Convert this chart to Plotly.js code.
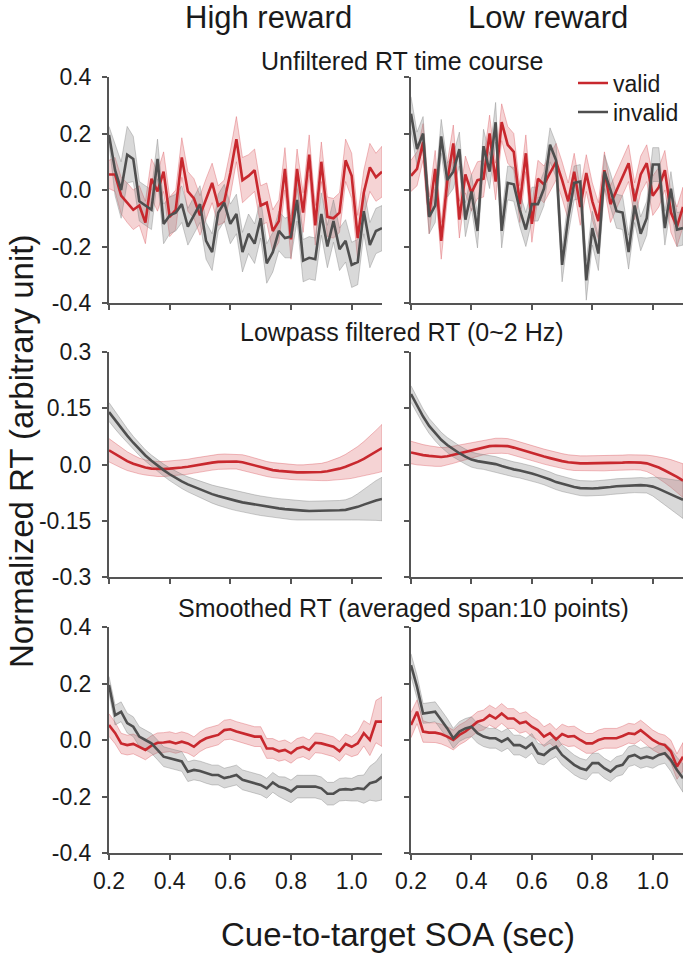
<!DOCTYPE html>
<html>
<head>
<meta charset="utf-8">
<script src="https://cdn.plot.ly/plotly-3.0.1.min.js"></script>
<style>html,body{margin:0;padding:0;background:#fff;}#chart{width:685px;height:953px;}</style>
</head>
<body>
<div id="chart"></div>
<script>
// ---------------- data ----------------
const SOA = [0.2,0.22,0.24,0.26,0.28,0.3,0.32,0.34,0.36,0.38,0.4,0.42,0.44,0.46,0.48,0.5,0.52,0.54,0.56,0.58,0.6,0.62,0.64,0.66,0.68,0.7,0.72,0.74,0.76,0.78,0.8,0.82,0.84,0.86,0.88,0.9,0.92,0.94,0.96,0.98,1.0,1.02,1.04,1.06,1.08,1.1];

const seriesNames = ['valid', 'invalid'];
const columnTitles = ['High reward', 'Low reward'];
const rowTitles = ['Unfiltered RT time course', 'Lowpass filtered RT (0~2 Hz)', 'Smoothed RT (averaged span:10 points)'];
const xTitle = 'Cue-to-target SOA (sec)';
const yTitle = 'Normalized RT (arbitrary unit)';

const xTickVals = [0.2, 0.4, 0.6, 0.8, 1.0];
const xTickText = ['0.2', '0.4', '0.6', '0.8', '1.0'];
const yTickValsA = [-0.4, -0.2, 0, 0.2, 0.4];
const yTickTextA = ['-0.4', '-0.2', '0.0', '0.2', '0.4'];
const yTickValsB = [-0.3, -0.15, 0, 0.15, 0.3];
const yTickTextB = ['-0.3', '-0.15', '0.0', '0.15', '0.3'];

// Unfiltered, high reward
const rawHighValid = [0.055,0.055,-0.02,-0.045,-0.07,-0.055,-0.115,0.04,-0.005,0.065,-0.095,-0.07,0.115,-0.005,-0.03,-0.09,-0.03,0.025,-0.055,-0.04,0.06,0.18,0.035,0.05,0.07,-0.055,-0.045,-0.145,-0.11,0.075,-0.175,0.075,-0.08,0.125,-0.125,0.1,-0.095,-0.1,-0.08,0.105,0.05,-0.17,-0.01,0.08,0.045,0.065];
const rawHighInvalid = [0.195,0.07,0.0,0.125,0.11,-0.04,-0.055,-0.07,0.11,-0.12,-0.09,-0.08,-0.05,-0.13,-0.09,-0.05,-0.18,-0.22,-0.08,-0.045,-0.12,-0.085,-0.22,-0.155,-0.19,-0.1,-0.26,-0.22,-0.145,-0.17,-0.165,-0.035,-0.25,-0.24,-0.245,-0.085,-0.2,-0.11,-0.21,-0.18,-0.265,-0.255,-0.075,-0.195,-0.145,-0.135];
const rawHighValidSem = [0.05,0.06,0.065,0.07,0.07,0.07,0.075,0.07,0.07,0.07,0.07,0.07,0.07,0.07,0.07,0.07,0.07,0.07,0.07,0.075,0.08,0.08,0.08,0.075,0.075,0.07,0.07,0.075,0.075,0.075,0.07,0.07,0.07,0.07,0.07,0.07,0.07,0.07,0.07,0.075,0.08,0.08,0.08,0.085,0.085,0.09];
const rawHighInvalidSem = [0.03,0.09,0.1,0.1,0.08,0.07,0.07,0.07,0.07,0.07,0.065,0.065,0.065,0.065,0.065,0.065,0.065,0.065,0.065,0.065,0.07,0.07,0.07,0.07,0.07,0.07,0.07,0.07,0.07,0.07,0.075,0.075,0.075,0.075,0.075,0.075,0.075,0.075,0.075,0.075,0.08,0.08,0.08,0.08,0.08,0.08];

// Unfiltered, low reward
const rawLowValid = [0.05,0.075,0.17,-0.09,0.075,-0.18,0.03,0.165,-0.105,0.055,-0.01,0.035,0.04,0.2,0.03,0.24,0.16,0.135,-0.05,0.13,-0.12,0.04,0.02,0.06,0.1,0.035,-0.04,0.065,-0.06,0.06,-0.04,-0.11,0.07,-0.05,0.0,0.05,0.095,-0.04,0.055,0.095,-0.02,0.01,0.07,-0.08,-0.13,-0.06];
const rawLowInvalid = [0.27,0.145,0.2,-0.095,-0.055,0.19,0.035,0.065,0.145,-0.105,-0.005,-0.145,0.155,0.065,0.24,-0.145,0.025,0.02,-0.07,-0.14,-0.05,-0.05,0.005,0.16,0.105,-0.265,-0.1,0.025,0.03,-0.32,-0.135,-0.225,0.065,0.0,-0.075,-0.08,-0.22,-0.055,-0.155,-0.1,0.09,0.09,-0.135,0.005,-0.14,-0.135];
const rawLowValidSem = [0.055,0.06,0.065,0.065,0.065,0.065,0.065,0.065,0.065,0.065,0.065,0.065,0.065,0.065,0.065,0.065,0.065,0.065,0.065,0.065,0.065,0.065,0.065,0.065,0.065,0.065,0.065,0.065,0.065,0.065,0.065,0.065,0.065,0.065,0.065,0.065,0.065,0.065,0.065,0.065,0.07,0.07,0.07,0.07,0.07,0.07];
const rawLowInvalidSem = [0.06,0.06,0.06,0.06,0.06,0.06,0.06,0.06,0.06,0.06,0.06,0.06,0.06,0.06,0.07,0.06,0.06,0.06,0.06,0.06,0.06,0.06,0.06,0.06,0.06,0.06,0.06,0.06,0.06,0.07,0.06,0.06,0.06,0.06,0.06,0.06,0.06,0.06,0.06,0.06,0.06,0.06,0.06,0.06,0.06,0.06];

// Lowpass filtered, high reward
const lpHighValid = [0.038,0.028,0.018,0.009,0.002,-0.004,-0.008,-0.011,-0.012,-0.012,-0.011,-0.01,-0.008,-0.006,-0.003,0.0,0.003,0.005,0.007,0.008,0.008,0.008,0.006,0.002,-0.003,-0.008,-0.012,-0.015,-0.017,-0.019,-0.02,-0.021,-0.021,-0.021,-0.021,-0.02,-0.018,-0.015,-0.011,-0.006,0.0,0.007,0.015,0.024,0.034,0.044];
const lpHighInvalid = [0.14,0.118,0.097,0.077,0.058,0.04,0.024,0.01,-0.003,-0.015,-0.026,-0.036,-0.045,-0.053,-0.06,-0.067,-0.073,-0.079,-0.084,-0.089,-0.093,-0.097,-0.101,-0.104,-0.107,-0.11,-0.113,-0.115,-0.117,-0.119,-0.121,-0.122,-0.123,-0.124,-0.124,-0.124,-0.124,-0.123,-0.122,-0.121,-0.118,-0.113,-0.107,-0.101,-0.096,-0.092];
const lpHighValidSem = [0.031,0.029,0.027,0.025,0.023,0.021,0.02,0.02,0.02,0.02,0.02,0.02,0.02,0.02,0.02,0.02,0.02,0.02,0.02,0.02,0.02,0.02,0.02,0.02,0.02,0.02,0.02,0.02,0.02,0.02,0.02,0.02,0.02,0.021,0.022,0.023,0.025,0.027,0.03,0.033,0.037,0.041,0.046,0.051,0.057,0.063];
const lpHighInvalidSem = [0.025,0.023,0.021,0.019,0.017,0.016,0.015,0.015,0.015,0.016,0.017,0.018,0.019,0.02,0.021,0.022,0.023,0.024,0.025,0.026,0.026,0.026,0.026,0.026,0.026,0.026,0.026,0.026,0.026,0.026,0.026,0.026,0.026,0.026,0.026,0.026,0.026,0.026,0.026,0.027,0.03,0.035,0.041,0.047,0.053,0.058];

// Lowpass filtered, low reward
const lpLowValid = [0.032,0.028,0.025,0.023,0.021,0.02,0.022,0.026,0.03,0.034,0.038,0.042,0.046,0.049,0.05,0.05,0.049,0.045,0.04,0.035,0.03,0.026,0.021,0.017,0.012,0.009,0.006,0.004,0.003,0.003,0.003,0.003,0.003,0.004,0.004,0.005,0.006,0.006,0.005,0.003,-0.002,-0.008,-0.016,-0.024,-0.033,-0.043];
const lpLowInvalid = [0.188,0.157,0.128,0.103,0.083,0.066,0.052,0.04,0.03,0.021,0.013,0.009,0.007,0.005,0.001,-0.004,-0.009,-0.013,-0.016,-0.019,-0.024,-0.029,-0.034,-0.04,-0.047,-0.052,-0.057,-0.06,-0.063,-0.064,-0.064,-0.063,-0.062,-0.06,-0.058,-0.057,-0.056,-0.055,-0.055,-0.056,-0.059,-0.065,-0.073,-0.08,-0.087,-0.094];
const lpLowValidSem = [0.03,0.029,0.028,0.027,0.026,0.025,0.024,0.023,0.022,0.021,0.02,0.02,0.02,0.02,0.02,0.02,0.02,0.02,0.02,0.02,0.02,0.02,0.02,0.02,0.02,0.02,0.02,0.02,0.02,0.02,0.02,0.02,0.02,0.02,0.02,0.02,0.02,0.02,0.02,0.022,0.025,0.029,0.033,0.037,0.041,0.045];
const lpLowInvalidSem = [0.022,0.021,0.02,0.02,0.02,0.02,0.02,0.02,0.02,0.02,0.02,0.02,0.02,0.02,0.02,0.02,0.02,0.02,0.02,0.02,0.02,0.02,0.02,0.02,0.02,0.02,0.02,0.02,0.02,0.02,0.02,0.02,0.02,0.02,0.02,0.02,0.02,0.02,0.02,0.02,0.025,0.03,0.035,0.04,0.045,0.05];

// Smoothed, high reward
const smHighValid = [0.053,0.025,-0.012,-0.018,-0.014,-0.024,-0.035,-0.02,-0.01,-0.009,-0.006,-0.012,-0.006,-0.012,-0.024,-0.006,0.006,0.012,0.018,0.035,0.038,0.03,0.024,0.018,0.012,0.012,-0.03,-0.03,-0.04,-0.035,-0.047,-0.03,-0.024,-0.035,-0.01,-0.012,-0.018,-0.024,-0.04,-0.014,-0.024,-0.012,0.024,0.0,0.065,0.065];
const smHighInvalid = [0.195,0.088,0.1,0.06,0.047,0.012,0.0,-0.012,-0.035,-0.059,-0.065,-0.07,-0.076,-0.112,-0.106,-0.11,-0.118,-0.124,-0.124,-0.135,-0.13,-0.124,-0.141,-0.147,-0.153,-0.159,-0.171,-0.15,-0.165,-0.171,-0.182,-0.165,-0.165,-0.165,-0.165,-0.171,-0.19,-0.19,-0.176,-0.174,-0.176,-0.171,-0.174,-0.153,-0.147,-0.13];
const smHighValidSem = [0.04,0.038,0.036,0.035,0.035,0.035,0.035,0.035,0.035,0.035,0.035,0.035,0.035,0.035,0.035,0.035,0.035,0.035,0.035,0.035,0.035,0.035,0.035,0.035,0.035,0.035,0.035,0.035,0.035,0.035,0.035,0.035,0.035,0.035,0.035,0.035,0.035,0.035,0.035,0.035,0.035,0.04,0.045,0.055,0.075,0.088];
const smHighInvalidSem = [0.03,0.035,0.035,0.035,0.035,0.035,0.035,0.035,0.035,0.035,0.035,0.035,0.035,0.035,0.035,0.035,0.035,0.035,0.035,0.035,0.035,0.035,0.035,0.035,0.035,0.035,0.035,0.035,0.035,0.04,0.04,0.04,0.04,0.04,0.04,0.04,0.04,0.04,0.04,0.04,0.04,0.045,0.05,0.06,0.07,0.082];

// Smoothed, low reward
const smLowValid = [0.053,0.1,0.03,0.026,0.026,0.021,0.012,0.0,0.018,0.03,0.047,0.065,0.071,0.088,0.076,0.094,0.076,0.076,0.059,0.065,0.047,0.035,0.012,0.024,0.002,0.021,0.012,0.014,0.0,-0.012,-0.012,0.0,0.006,0.006,0.006,0.014,0.024,0.021,0.035,0.018,0.0,-0.012,-0.018,-0.041,-0.094,-0.059];
const smLowInvalid = [0.265,0.188,0.094,0.096,0.1,0.071,0.041,0.006,0.03,0.041,0.047,0.024,0.012,0.006,0.006,-0.006,0.006,-0.018,-0.018,-0.029,-0.012,-0.047,-0.053,-0.035,-0.024,-0.053,-0.071,-0.088,-0.1,-0.106,-0.082,-0.082,-0.1,-0.112,-0.094,-0.088,-0.059,-0.053,-0.065,-0.059,-0.065,-0.053,-0.047,-0.071,-0.106,-0.135];
const smLowValidSem = [0.045,0.042,0.038,0.035,0.035,0.035,0.035,0.035,0.035,0.035,0.035,0.035,0.035,0.035,0.035,0.035,0.035,0.035,0.035,0.035,0.035,0.035,0.035,0.035,0.035,0.035,0.035,0.035,0.035,0.035,0.035,0.035,0.035,0.035,0.035,0.035,0.035,0.035,0.035,0.035,0.035,0.035,0.035,0.04,0.045,0.05];
const smLowInvalidSem = [0.04,0.04,0.035,0.035,0.035,0.035,0.035,0.035,0.035,0.035,0.035,0.035,0.035,0.035,0.035,0.035,0.035,0.035,0.035,0.035,0.035,0.035,0.035,0.035,0.035,0.035,0.035,0.035,0.035,0.035,0.035,0.035,0.035,0.035,0.035,0.035,0.035,0.035,0.035,0.035,0.035,0.035,0.035,0.04,0.045,0.05];

// ---------------- styles ----------------
const RED = '#c8282e';
const GRAY = '#4f4f4f';
const RED_FILL = 'rgba(214,70,76,0.24)';
const RED_EDGE = 'rgba(214,70,76,0.35)';
const GRAY_FILL = 'rgba(130,130,130,0.30)';
const GRAY_EDGE = 'rgba(130,130,130,0.40)';
const AXIS = '#555555';
const FONT = 'Liberation Sans, Arial, Helvetica, sans-serif';
const W = 685, H = 953;

const panels = [
  {v: rawHighValid, i: rawHighInvalid, vs: rawHighValidSem, is: rawHighInvalidSem},
  {v: rawLowValid,  i: rawLowInvalid,  vs: rawLowValidSem,  is: rawLowInvalidSem},
  {v: lpHighValid,  i: lpHighInvalid,  vs: lpHighValidSem,  is: lpHighInvalidSem},
  {v: lpLowValid,   i: lpLowInvalid,   vs: lpLowValidSem,   is: lpLowInvalidSem},
  {v: smHighValid,  i: smHighInvalid,  vs: smHighValidSem,  is: smHighInvalidSem},
  {v: smLowValid,   i: smLowInvalid,   vs: smLowValidSem,   is: smLowInvalidSem}
];

function band(x, y, s) {
  const up = y.map((d, k) => d + s[k]);
  const lo = y.map((d, k) => d - s[k]);
  return {x: x.concat(x.slice().reverse()), y: up.concat(lo.slice().reverse())};
}

const traces = [];
panels.forEach((p, idx) => {
  const n = idx + 1;
  const xa = n === 1 ? 'x' : 'x' + n;
  const ya = n === 1 ? 'y' : 'y' + n;
  const bv = band(SOA, p.v, p.vs);
  const bi = band(SOA, p.i, p.is);
  traces.push({x: bv.x, y: bv.y, xaxis: xa, yaxis: ya, type: 'scatter', mode: 'lines', fill: 'toself',
    fillcolor: RED_FILL, line: {color: RED_EDGE, width: 1}, hoverinfo: 'skip', showlegend: false});
  traces.push({x: bi.x, y: bi.y, xaxis: xa, yaxis: ya, type: 'scatter', mode: 'lines', fill: 'toself',
    fillcolor: GRAY_FILL, line: {color: GRAY_EDGE, width: 1}, hoverinfo: 'skip', showlegend: false});
  traces.push({x: SOA, y: p.v, xaxis: xa, yaxis: ya, type: 'scatter', mode: 'lines', name: seriesNames[0],
    line: {color: RED, width: 2.6}, showlegend: n === 2, legend: 'legend'});
  traces.push({x: SOA, y: p.i, xaxis: xa, yaxis: ya, type: 'scatter', mode: 'lines', name: seriesNames[1],
    line: {color: GRAY, width: 2.6}, showlegend: n === 2, legend: 'legend2'});
});

const colDom = [[109 / W, 382 / W], [411 / W, 683 / W]];
const rowDom = [[1 - 303 / H, 1 - 77 / H], [1 - 577 / H, 1 - 352 / H], [1 - 853 / H, 1 - 627 / H]];

const legendBase = {xanchor: 'left', yanchor: 'middle', bgcolor: 'rgba(0,0,0,0)',
  font: {family: FONT, size: 23, color: '#1a1a1a'}, tracegroupgap: 0, itemwidth: 30};

const layout = {
  width: W, height: H,
  margin: {l: 0, r: 0, t: 0, b: 0},
  paper_bgcolor: '#ffffff', plot_bgcolor: 'rgba(0,0,0,0)',
  font: {family: FONT, color: '#1a1a1a', size: 23},
  showlegend: true,
  legend: Object.assign({x: 573 / W, y: 1 - 83 / H}, legendBase),
  legend2: Object.assign({x: 573 / W, y: 1 - 112 / H}, legendBase),
  annotations: [],
  hovermode: false
};

for (let n = 1; n <= 6; n++) {
  const col = (n - 1) % 2, row = Math.floor((n - 1) / 2);
  const xk = n === 1 ? 'xaxis' : 'xaxis' + n;
  const yk = n === 1 ? 'yaxis' : 'yaxis' + n;
  const isA = row !== 1;
  layout[xk] = {
    domain: colDom[col], range: [0.2, 1.1], anchor: n === 1 ? 'y' : 'y' + n,
    showline: true, linecolor: AXIS, linewidth: 2, ticks: 'outside', ticklen: 5, tickwidth: 2, tickcolor: AXIS,
    tickmode: 'array', tickvals: xTickVals, ticktext: xTickText, showticklabels: row === 2,
    showgrid: false, zeroline: false, tickfont: {size: 23, family: FONT, color: '#1a1a1a'}, ticklabelstandoff: 1
  };
  layout[yk] = {
    domain: rowDom[row], range: isA ? [-0.4, 0.4] : [-0.3, 0.3], anchor: n === 1 ? 'x' : 'x' + n,
    showline: true, linecolor: AXIS, linewidth: 2, ticks: 'outside', ticklen: 5, tickwidth: 2, tickcolor: AXIS,
    tickmode: 'array', tickvals: isA ? yTickValsA : yTickValsB, ticktext: isA ? yTickTextA : yTickTextB,
    showticklabels: col === 0, showgrid: false, zeroline: false,
    tickfont: {size: 23, family: FONT, color: '#1a1a1a'}, ticklabelstandoff: 6
  };
}

function ann(text, px, py, size, extra) {
  return Object.assign({text: text, x: px / W, y: 1 - py / H, xref: 'paper', yref: 'paper',
    xanchor: 'center', yanchor: 'middle', showarrow: false, font: {family: FONT, size: size, color: '#1a1a1a'}}, extra || {});
}
layout.annotations.push(ann(columnTitles[0], 268, 18, 31));
layout.annotations.push(ann(columnTitles[1], 548, 18, 31));
layout.annotations.push(ann(rowTitles[0], 402, 61, 25));
layout.annotations.push(ann(rowTitles[1], 402, 332, 25));
layout.annotations.push(ann(rowTitles[2], 403, 608, 25));
layout.annotations.push(ann(xTitle, 398, 934, 33));
layout.annotations.push(ann(yTitle, 22, 452, 33, {textangle: -90}));

Plotly.newPlot('chart', traces, layout, {staticPlot: true, displayModeBar: false});
</script>
</body>
</html>
